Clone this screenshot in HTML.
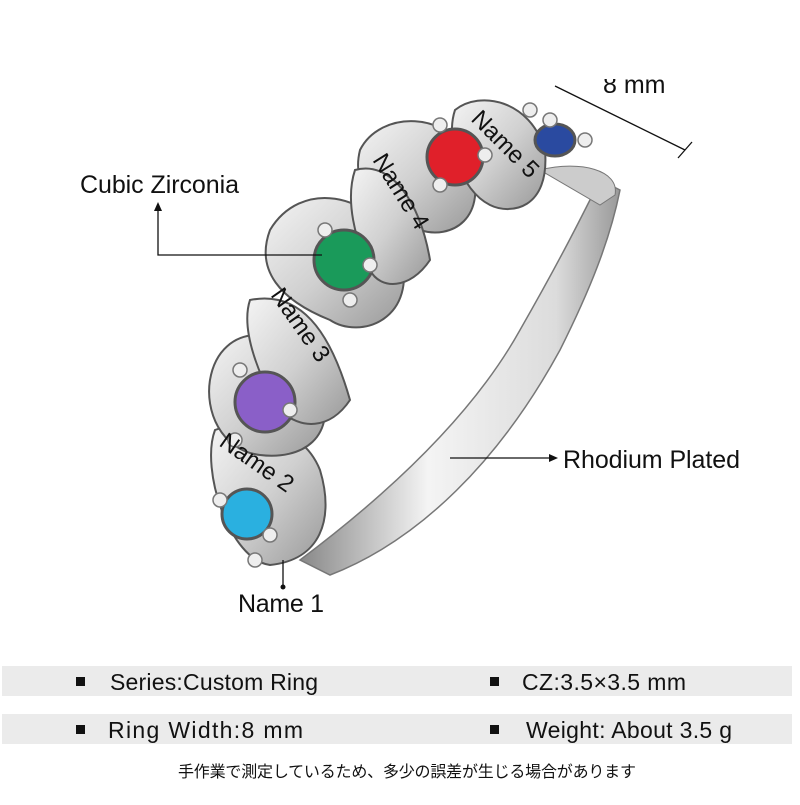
<!DOCTYPE html>
<html><head><style>
body{margin:0;width:800px;height:800px;background:#fff;overflow:hidden;font-family:"Liberation Sans",sans-serif}
</style></head><body>
<svg width="800" height="800" viewBox="0 0 800 800" xmlns="http://www.w3.org/2000/svg">
<defs>
<linearGradient id="m" x1="0" y1="0" x2="1" y2="1">
<stop offset="0" stop-color="#f4f4f4"/><stop offset="0.5" stop-color="#d0d0d0"/><stop offset="1" stop-color="#999"/>
</linearGradient>
<linearGradient id="s" x1="0" y1="0" x2="1" y2="0">
<stop offset="0" stop-color="#888"/><stop offset="0.4" stop-color="#f4f4f4"/><stop offset="0.8" stop-color="#dcdcdc"/><stop offset="1" stop-color="#999"/>
</linearGradient>
</defs>
<text x="603" y="93" font-size="25" fill="#111">8 mm</text>
<rect x="590" y="0" width="120" height="79" fill="#fff"/>
<!-- shank -->
<path d="M300,560 C380,500 470,420 520,330 C560,260 580,220 600,180 L620,190 C610,240 590,290 560,350 C500,460 420,540 330,575 Z" fill="url(#s)" stroke="#777" stroke-width="1.5"/>
<path d="M540,170 C580,160 620,170 615,195 L600,205 Z" fill="#ccc" stroke="#777"/>
<g fill="url(#m)" stroke="#555" stroke-width="2">
<path d="M215,430 C200,470 230,560 270,565 C320,560 335,520 320,470 C300,420 240,420 215,430 Z"/>
<path d="M210,380 C220,320 290,320 320,380 C340,440 300,460 260,455 C220,450 205,410 210,380 Z"/>
<path d="M270,230 C300,180 370,190 400,250 C420,320 360,340 330,320 C280,300 255,270 270,230 Z"/>
<path d="M360,150 C380,110 450,110 470,160 C490,220 450,240 420,230 C380,220 350,190 360,150 Z"/>
<path d="M455,110 C480,90 530,100 545,150 C550,210 510,215 490,205 C460,190 445,140 455,110 Z"/>
<path d="M250,300 C300,290 330,330 350,400 C330,430 300,430 280,410 C260,380 240,330 250,300 Z"/>
<path d="M355,170 C390,160 420,200 430,260 C410,290 380,290 370,270 C355,240 345,200 355,170 Z"/>
</g>
<circle cx="247" cy="514" r="25" fill="#2ab0e0" stroke="#555" stroke-width="3"/>
<circle cx="265" cy="402" r="30" fill="#8a5fc8" stroke="#555" stroke-width="3"/>
<circle cx="344" cy="260" r="30" fill="#1a9a5a" stroke="#555" stroke-width="3"/>
<circle cx="455" cy="157" r="28" fill="#e0202a" stroke="#555" stroke-width="3"/>
<ellipse cx="555" cy="140" rx="20" ry="16" fill="#2a4aa0" stroke="#555" stroke-width="3"/>
<g fill="#eee" stroke="#777" stroke-width="1.5">
<circle cx="220" cy="500" r="7"/><circle cx="270" cy="535" r="7"/><circle cx="255" cy="560" r="7"/>
<circle cx="240" cy="370" r="7"/><circle cx="290" cy="410" r="7"/><circle cx="235" cy="440" r="7"/>
<circle cx="325" cy="230" r="7"/><circle cx="370" cy="265" r="7"/><circle cx="350" cy="300" r="7"/>
<circle cx="440" cy="125" r="7"/><circle cx="485" cy="155" r="7"/><circle cx="440" cy="185" r="7"/>
<circle cx="530" cy="110" r="7"/><circle cx="550" cy="120" r="7"/><circle cx="585" cy="140" r="7"/>
</g>
<g font-size="24" fill="#111">
<text transform="translate(218,445) rotate(35)">Name 2</text>
<text transform="translate(270,295) rotate(55)">Name 3</text>
<text transform="translate(372,160) rotate(58)">Name 4</text>
<text transform="translate(470,120) rotate(45)">Name 5</text>
</g>
<g stroke="#111" stroke-width="1.3" fill="none">
<polyline points="158,210 158,255 322,255"/>
<line x1="450" y1="458" x2="550" y2="458"/>
<line x1="283" y1="560" x2="283" y2="585"/>
<line x1="555" y1="86" x2="685" y2="150"/>
<line x1="678" y1="158" x2="692" y2="142"/>
</g>
<polygon points="158,202 154,211 162,211" fill="#111"/>
<polygon points="558,458 549,454 549,462" fill="#111"/>
<circle cx="283" cy="587" r="2.5" fill="#111"/>
<g font-size="25" fill="#111" textLength="">
<text x="80" y="193" textLength="159">Cubic Zirconia</text>
<text x="563" y="468" textLength="177">Rhodium Plated</text>
<text x="238" y="612" textLength="86">Name 1</text>
</g>
<rect x="2" y="666" width="790" height="30" fill="#ebebeb"/>
<rect x="2" y="714" width="790" height="30" fill="#ebebeb"/>
<g fill="#111">
<rect x="76" y="677" width="9" height="9"/><rect x="490" y="677" width="9" height="9"/>
<rect x="76" y="725" width="9" height="9"/><rect x="490" y="725" width="9" height="9"/>
</g>
<g font-size="23" fill="#111">
<text x="110" y="690" textLength="208">Series:Custom Ring</text>
<text x="522" y="690" textLength="164">CZ:3.5×3.5 mm</text>
<text x="108" y="738" textLength="195">Ring Width:8 mm</text>
<text x="526" y="738" textLength="206">Weight: About 3.5 g</text>
</g>
<text x="178" y="777" font-size="16" textLength="458" fill="#111" font-family="'Liberation Sans','Noto Sans CJK JP',sans-serif">手作業で測定しているため、多少の誤差が生じる場合があります</text>
</svg>
</body></html>
